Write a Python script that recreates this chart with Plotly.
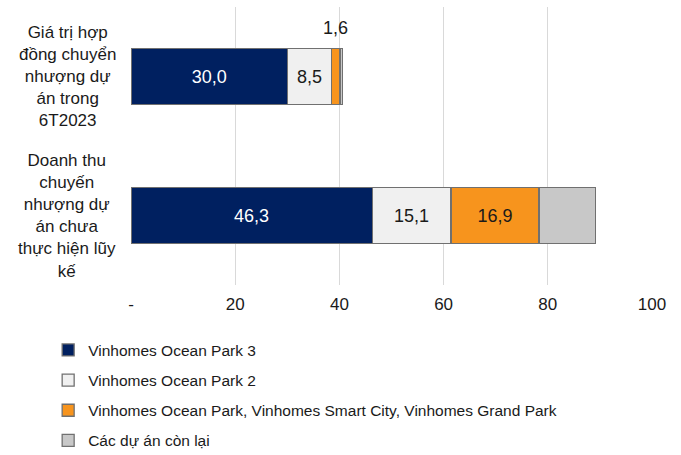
import plotly.graph_objects as go

categories = ["Giá trị hợp<br>đồng chuyển<br>nhượng dự<br>án trong<br>6T2023",
              "Doanh thu<br>chuyến<br>nhượng dự<br>án chưa<br>thực hiện lũy<br>kế"]

series_names = [
    "Vinhomes Ocean Park 3",
    "Vinhomes Ocean Park 2",
    "Vinhomes Ocean Park, Vinhomes Smart City, Vinhomes Grand Park",
    "Các dự án còn lại",
]
ocean_park_3 = [30.0, 46.3]
ocean_park_2 = [8.5, 15.1]
ocean_park_mix = [1.6, 16.9]
remaining = [0.5, 10.9]

tick_vals = [0, 20, 40, 60, 80, 100]
tick_text = ["-", "20", "40", "60", "80", "100"]

COLORS = ["#002060", "#F0F0F0", "#F7941D", "#C8C8C8"]
TEXT_COLORS = ["#FFFFFF", "#1A1A1A", "#1A1A1A", "#1A1A1A"]
FONT = "Arial, Liberation Sans, sans-serif"


def _fmt(v):
    return f"{v:.1f}".replace(".", ",")


series = [ocean_park_3, ocean_park_2, ocean_park_mix, remaining]
# which labels are drawn inside the bar segments
show_inside = [[True, True], [True, True], [False, True], [False, False]]

fig = go.Figure()
for i, (name, vals) in enumerate(zip(series_names, series)):
    fig.add_trace(go.Bar(
        y=list(range(len(categories))),
        x=vals,
        orientation="h",
        name=name,
        legendgroup=f"g{i}",
        marker=dict(color=COLORS[i], line=dict(color="#707070", width=1.3)),
        text=[_fmt(v) if s else "" for v, s in zip(vals, show_inside[i])],
        textposition="inside",
        insidetextanchor="middle",
        textangle=0,
        textfont=dict(size=18, color=TEXT_COLORS[i], family=FONT),
        hoverinfo="x+name",
    ))

# small orange segment of the first bar gets its label above the bar
fig.add_annotation(
    x=ocean_park_3[0] + ocean_park_2[0] + ocean_park_mix[0] / 2,
    y=0, xref="x", yref="y",
    text=_fmt(ocean_park_mix[0]), showarrow=False,
    yshift=49, font=dict(size=18, color="#1A1A1A", family=FONT),
)

# category labels, centred like the original
for j, cat in enumerate(categories):
    fig.add_annotation(
        x=0, y=j, xref="paper", yref="y",
        text=cat, showarrow=False, align="center",
        xanchor="center", yanchor="middle", xshift=-64,
        font=dict(size=17, color="#1A1A1A", family=FONT),
    )

fig.update_layout(
    barmode="stack",
    bargap=0.6,
    width=681, height=455,
    margin=dict(l=131, r=29, t=7, b=170, autoexpand=False),
    paper_bgcolor="white",
    plot_bgcolor="white",
    font=dict(family=FONT, color="#1A1A1A"),
    xaxis=dict(
        range=[0, 100],
        tickmode="array", tickvals=tick_vals, ticktext=tick_text,
        tickfont=dict(size=17, color="#1A1A1A"),
        showgrid=True, gridcolor="#D9D9D9", gridwidth=1.3,
        zeroline=False, showline=False,
        ticks="outside", ticklen=4, tickcolor="rgba(0,0,0,0)",
        fixedrange=True,
    ),
    yaxis=dict(
        range=[1.5, -0.5],
        showticklabels=False, showgrid=False, zeroline=False,
        fixedrange=True,
    ),
    legend=dict(
        orientation="v",
        x=-0.159, y=-0.174, xref="paper", yref="paper",
        yanchor="top", xanchor="left",
        font=dict(size=15.5, color="#1A1A1A", family=FONT),
        tracegroupgap=7,
        traceorder="grouped",
        itemwidth=30,
        bgcolor="rgba(0,0,0,0)",
    ),
    showlegend=True,
)

# page has no body margin so the figure sits at the window's top-left corner
fig.write_html(
    "out.html",
    config={"displayModeBar": False},
    post_script="document.body.style.margin='0';",
)
